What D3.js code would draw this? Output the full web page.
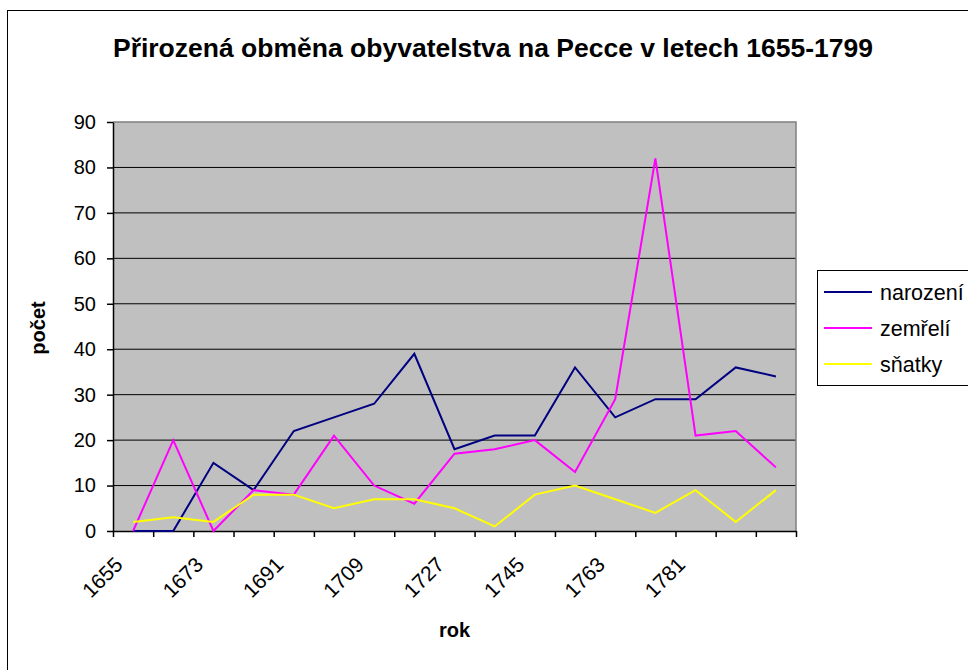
<!DOCTYPE html>
<html>
<head>
<meta charset="utf-8">
<script src="https://cdn.jsdelivr.net/npm/d3@7"></script>
<style>
  body { margin: 0; background: #fff; }
  svg { display: block; font-family: "Liberation Sans", Arial, sans-serif; }
</style>
</head>
<body>
<script>
// categories every 9 years
const years = [1655, 1664, 1673, 1682, 1691, 1700, 1709, 1718, 1727, 1736, 1745, 1754, 1763, 1772, 1781, 1790, 1799]
const labelYears = [1655, 1673, 1691, 1709, 1727, 1745, 1763, 1781]
const yTicks = [0, 10, 20, 30, 40, 50, 60, 70, 80, 90]

const narozeni = [0, 0, 15, 9, 22, 25, 28, 39, 18, 21, 21, 36, 25, 29, 29, 36, 34]
const zemreli = [0, 20, 0, 9, 8, 21, 10, 6, 17, 18, 20, 13, 29, 82, 21, 22, 14]
const snatky = [2, 3, 2, 8, 8, 5, 7, 7, 5, 1, 8, 10, 7, 4, 9, 2, 9]

const seriesNames = ['narození', 'zemřelí', 'sňatky']
const seriesColors = ['#000080', '#FF00FF', '#FFFF00']

const width = 968, height = 670
const plot = { left: 113, right: 796, top: 122, bottom: 531 }

const svg = d3.select('body').append('svg')
    .attr('width', width)
    .attr('height', height)

// outer chart border (right / bottom fall outside the picture)
svg.append('rect')
    .attr('x', 7.5).attr('y', 10.5)
    .attr('width', 1000).attr('height', 700)
    .attr('fill', '#fff')
    .attr('stroke', '#000')

// scales
const xScale = d3.scaleBand()
    .domain(years)
    .range([plot.left, plot.right])

const xEdge = d3.scaleLinear()
    .domain([0, years.length])
    .range([plot.left, plot.right])

const yScale = d3.scaleLinear()
    .domain([0, 90])
    .range([plot.bottom, plot.top])

// plot background
svg.append('rect')
    .attr('x', plot.left).attr('y', plot.top)
    .attr('width', plot.right - plot.left)
    .attr('height', plot.bottom - plot.top)
    .attr('fill', '#C0C0C0')

// gridlines
svg.append('g')
    .selectAll('line')
    .data(yTicks.filter(d => d > 0 && d < 90))
    .join('line')
    .attr('x1', plot.left).attr('x2', plot.right)
    .attr('y1', d => yScale(d)).attr('y2', d => yScale(d))
    .attr('stroke', '#000')
    .attr('stroke-width', 1)

// top & right border of plot area
svg.append('path')
    .attr('d', `M${plot.left},${plot.top}H${plot.right}V${plot.bottom}`)
    .attr('fill', 'none')
    .attr('stroke', '#808080')
    .attr('stroke-width', 1.5)

// y axis
const yAxis = svg.append('g')
    .attr('transform', `translate(${plot.left},0)`)
    .call(d3.axisLeft(yScale).tickValues(yTicks).tickSize(6).tickPadding(11).tickSizeOuter(0))
yAxis.select('.domain').attr('stroke', '#000').attr('stroke-width', 1.5)
yAxis.selectAll('.tick line').attr('stroke', '#000').attr('stroke-width', 1.5)
yAxis.selectAll('text')
    .attr('font-size', 20)
    .attr('font-family', '"Liberation Sans", Arial, sans-serif')
    .attr('fill', '#000')

// x axis: tick marks at category edges
const xAxis = svg.append('g')
    .attr('transform', `translate(0,${plot.bottom})`)
    .call(d3.axisBottom(xEdge).tickValues(d3.range(years.length + 1)).tickSize(6).tickFormat('').tickSizeOuter(0))
xAxis.select('.domain').attr('stroke', '#000').attr('stroke-width', 1.5)
xAxis.selectAll('.tick line').attr('stroke', '#000').attr('stroke-width', 1.5)

// x labels, rotated
svg.append('g')
    .selectAll('text')
    .data(labelYears)
    .join('text')
    .attr('transform', d => `translate(${xScale(d) + xScale.bandwidth() / 2 - 9},${plot.bottom + 35}) rotate(-45)`)
    .attr('text-anchor', 'end')
    .attr('font-size', 21)
    .text(d => d)

// lines
const line = d3.line()
    .x((d, i) => xScale(years[i]) + xScale.bandwidth() / 2)
    .y(d => yScale(d))

const allSeries = [narozeni, zemreli, snatky]
svg.append('g')
    .selectAll('path')
    .data(allSeries)
    .join('path')
    .attr('d', d => line(d))
    .attr('fill', 'none')
    .attr('stroke', (d, i) => seriesColors[i])
    .attr('stroke-width', 2)
    .attr('stroke-linejoin', 'miter')

// title
svg.append('text')
    .attr('x', 493).attr('y', 57)
    .attr('text-anchor', 'middle')
    .attr('font-size', 26.5)
    .attr('font-weight', 'bold')
    .text('Přirozená obměna obyvatelstva na Pecce v letech 1655-1799')

// axis titles
svg.append('text')
    .attr('x', (plot.left + plot.right) / 2).attr('y', 637)
    .attr('text-anchor', 'middle')
    .attr('font-size', 20)
    .attr('font-weight', 'bold')
    .text('rok')

svg.append('text')
    .attr('transform', 'translate(45,328) rotate(-90)')
    .attr('text-anchor', 'middle')
    .attr('font-size', 20)
    .attr('font-weight', 'bold')
    .text('počet')

// legend
const legend = svg.append('g')
legend.append('rect')
    .attr('x', 817.5).attr('y', 270.5)
    .attr('width', 200).attr('height', 115)
    .attr('fill', '#fff')
    .attr('stroke', '#000')

const legendItem = legend.selectAll('g.item')
    .data(seriesNames)
    .join('g')
    .attr('class', 'item')
    .attr('transform', (d, i) => `translate(0,${292 + i * 36})`)

legendItem.append('line')
    .attr('x1', 824).attr('x2', 872)
    .attr('y1', 0).attr('y2', 0)
    .attr('stroke', (d, i) => seriesColors[i])
    .attr('stroke-width', 2)

legendItem.append('text')
    .attr('x', 880).attr('y', 7.5)
    .attr('font-size', 21.5)
    .text(d => d)
</script>
</body>
</html>
